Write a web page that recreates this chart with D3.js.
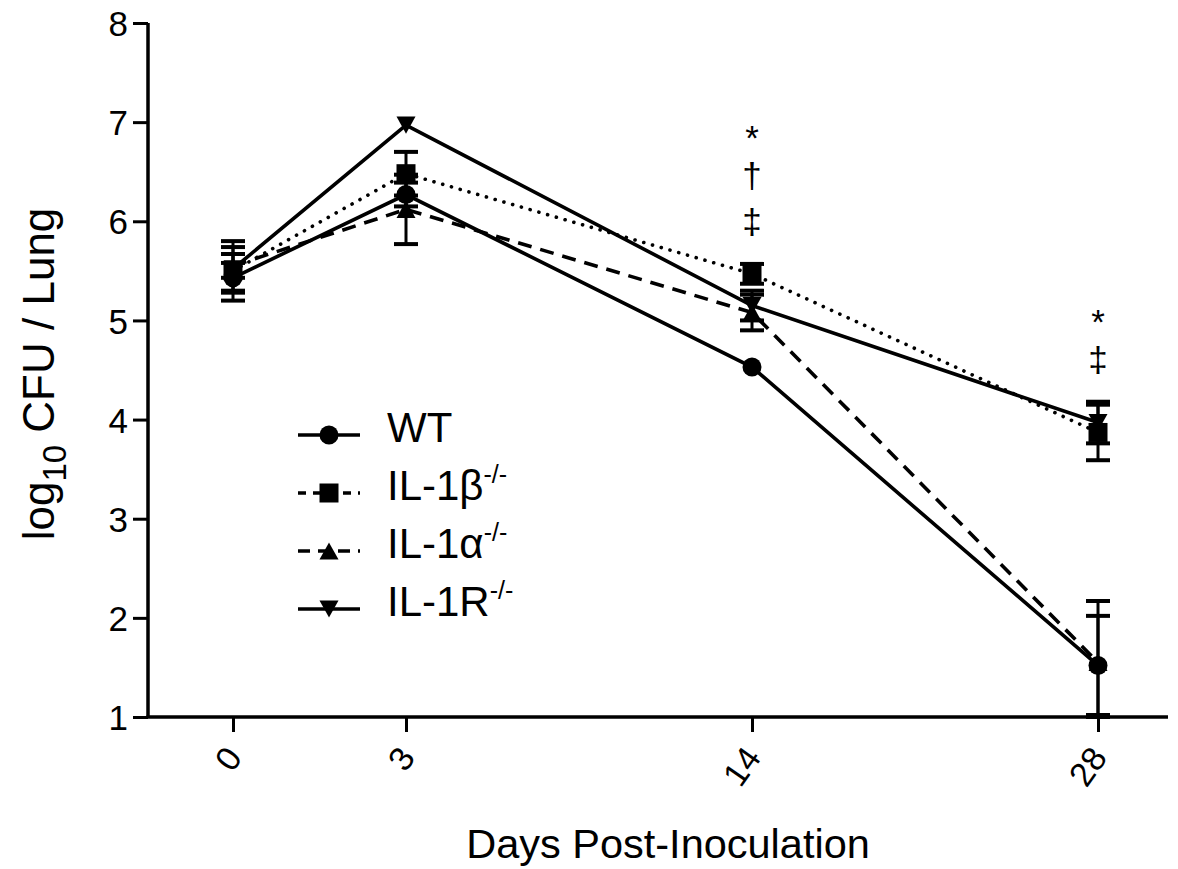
<!DOCTYPE html>
<html>
<head>
<meta charset="utf-8">
<script src="https://cdn.jsdelivr.net/npm/d3@7"></script>
<style>
  body { margin: 0; background: #fff; }
  svg text { font-family: "Liberation Sans", Arial, sans-serif; fill: #000; }
</style>
</head>
<body>
<div id="chart"></div>
<script>
// Data (log10 CFU / lung, mean and SEM)
const days = [0, 3, 14, 28];
const daySlot = [0, 1, 3, 5]; // the x axis is not to scale in days
const yTicks = [1, 2, 3, 4, 5, 6, 7, 8];

const wtMean = [5.43, 6.27, 4.53, 1.52];
const wtErr = [0.15, 0.12, 0, 0.5];
const il1bMean = [5.5, 6.48, 5.47, 3.87];
const il1bErr = [0.3, 0.22, 0.1, 0.28];
const il1aMean = [5.55, 6.12, 5.08, 1.55];
const il1aErr = [0.12, 0.35, 0.18, 0.62];
const il1rMean = [5.52, 6.97, 5.15, 3.97];
const il1rErr = [0.22, 0, 0.15, 0.21];

const seriesNames = ['WT', 'IL-1β', 'IL-1α', 'IL-1R'];
// significance symbols stacked above day 14 and day 28 (top symbol level on y)
const sigDays = [14, 28];
const sigSymbols = [['*', '†', '‡'], ['*', '‡']];
const sigTop = [6.92, 5.06];

const series = [
  {name: seriesNames[0], mean: wtMean, err: wtErr, dash: null, shape: d3.symbolCircle},
  {name: seriesNames[1], mean: il1bMean, err: il1bErr, dash: '0.1,9', shape: d3.symbolSquare, cap: 'round'},
  {name: seriesNames[2], mean: il1aMean, err: il1aErr, dash: '14,9', shape: 'up'},
  {name: seriesNames[3], mean: il1rMean, err: il1rErr, dash: null, shape: 'down'}
];

const width = 1178, height = 869;

const svg = d3.select('#chart')
              .append('svg')
              .attr('width', width)
              .attr('height', height);

const x = d3.scaleLinear().domain([0, 5]).range([233, 1098]);
const y = d3.scaleLinear().domain([1, 8]).range([717, 23]);
const xOf = i => x(daySlot[i]);

function markerPath(shape, size) {
  if (shape === 'up') {
    const h = size * 0.9, w = size;
    return `M0,${-h / 2}L${w / 2},${h / 2}L${-w / 2},${h / 2}Z`;
  }
  if (shape === 'down') {
    const h = size * 0.9, w = size;
    return `M0,${h / 2}L${w / 2},${-h / 2}L${-w / 2},${-h / 2}Z`;
  }
  const area = shape === d3.symbolCircle ? Math.PI * (size / 2) * (size / 2) : size * size;
  return d3.symbol().type(shape).size(area)();
}

// error bars (skipped where the SEM is hidden by the marker)
series.forEach(s => {
  const g = svg.append('g');
  s.mean.forEach((m, i) => {
    if (!s.err[i]) return;
    const cx = xOf(i);
    const top = y(m + s.err[i]);
    const bot = y(Math.max(1, m - s.err[i]));
    g.append('line').attr('x1', cx).attr('x2', cx).attr('y1', top).attr('y2', bot)
     .attr('stroke', '#000').attr('stroke-width', 3);
    [top, bot].forEach(yy => {
      g.append('line').attr('x1', cx - 12).attr('x2', cx + 12).attr('y1', yy).attr('y2', yy)
       .attr('stroke', '#000').attr('stroke-width', 4);
    });
  });
});

// lines
const line = d3.line().x((d, i) => xOf(i)).y(d => y(d));
series.forEach(s => {
  svg.append('path')
     .datum(s.mean)
     .attr('d', line)
     .attr('fill', 'none')
     .attr('stroke', '#000')
     .attr('stroke-width', 3.6)
     .attr('stroke-linecap', s.cap || 'butt')
     .attr('stroke-dasharray', s.dash);
});

// markers
series.forEach(s => {
  svg.append('g').selectAll('path')
     .data(s.mean)
     .enter()
     .append('path')
     .attr('transform', (d, i) => `translate(${xOf(i)}, ${y(d)})`)
     .attr('d', markerPath(s.shape, 19))
     .attr('fill', '#000');
});

// axes
const yAxis = d3.axisLeft(y).tickValues(yTicks).tickSize(15).tickPadding(5).tickFormat(d3.format('d'));
const gy = svg.append('g').attr('transform', 'translate(148,0)').call(yAxis);
gy.select('.domain').attr('stroke-width', 3.5).attr('d', `M0,${y(8)}V${y(1)}`);
gy.selectAll('.tick line').attr('stroke-width', 3);
gy.selectAll('.tick text').attr('font-size', 35).attr('dy', '0.36em');

const xAxis = d3.axisBottom(x).tickValues(daySlot).tickSize(15).tickFormat((d, i) => days[i]);
const gx = svg.append('g').attr('transform', `translate(0,${y(1)})`).call(xAxis);
gx.select('.domain').attr('stroke-width', 3.5).attr('d', `M146.5,0H1168`);
gx.selectAll('.tick line').attr('stroke-width', 3);
gx.selectAll('.tick text')
  .attr('font-size', 34)
  .attr('text-anchor', 'end')
  .attr('y', 0).attr('dy', '0.35em')
  .attr('transform', 'translate(0,34) rotate(-55)');

// significance marks, one stacked text per day
sigDays.forEach((day, k) => {
  const cx = x(daySlot[days.indexOf(day)]);
  const t = svg.append('text')
     .attr('text-anchor', 'middle')
     .attr('font-size', 35);
  sigSymbols[k].forEach((m, j) => {
    t.append('tspan')
     .attr('x', cx)
     .attr('y', y(sigTop[k]) + 20 + (j === 0 ? 0 : j * 46 - 8))
     .text(m);
  });
});

// titles
svg.append('text')
   .attr('x', 668).attr('y', 858)
   .attr('text-anchor', 'middle')
   .attr('font-size', 41.5)
   .text('Days Post-Inoculation');

const yt = svg.append('text')
   .attr('transform', 'translate(54,374) rotate(-90)')
   .attr('text-anchor', 'middle')
   .attr('font-size', 44);
yt.append('tspan').text('log');
yt.append('tspan').attr('font-size', 33).attr('dy', 12).text('10');
yt.append('tspan').attr('dy', -12).text(' CFU / Lung');

// legend
const legend = svg.append('g');
series.forEach((s, i) => {
  const ly = 435 + i * 58;
  legend.append('line')
        .attr('x1', 298).attr('x2', 360).attr('y1', ly).attr('y2', ly)
        .attr('stroke', '#000').attr('stroke-width', 3.6)
        .attr('stroke-dasharray', s.dash ? (s.cap ? '8,7' : '12,8') : null);
  legend.append('path')
        .attr('transform', `translate(329, ${ly})`)
        .attr('d', markerPath(s.shape, 19))
        .attr('fill', '#000');
  const t = legend.append('text')
        .attr('x', 387).attr('y', ly + 7)
        .attr('font-size', 42)
        .text(s.name);
  if (i > 0) {
    t.append('tspan').attr('font-size', 25).attr('dy', -17).text('-/-');
  }
});
</script>
</body>
</html>
